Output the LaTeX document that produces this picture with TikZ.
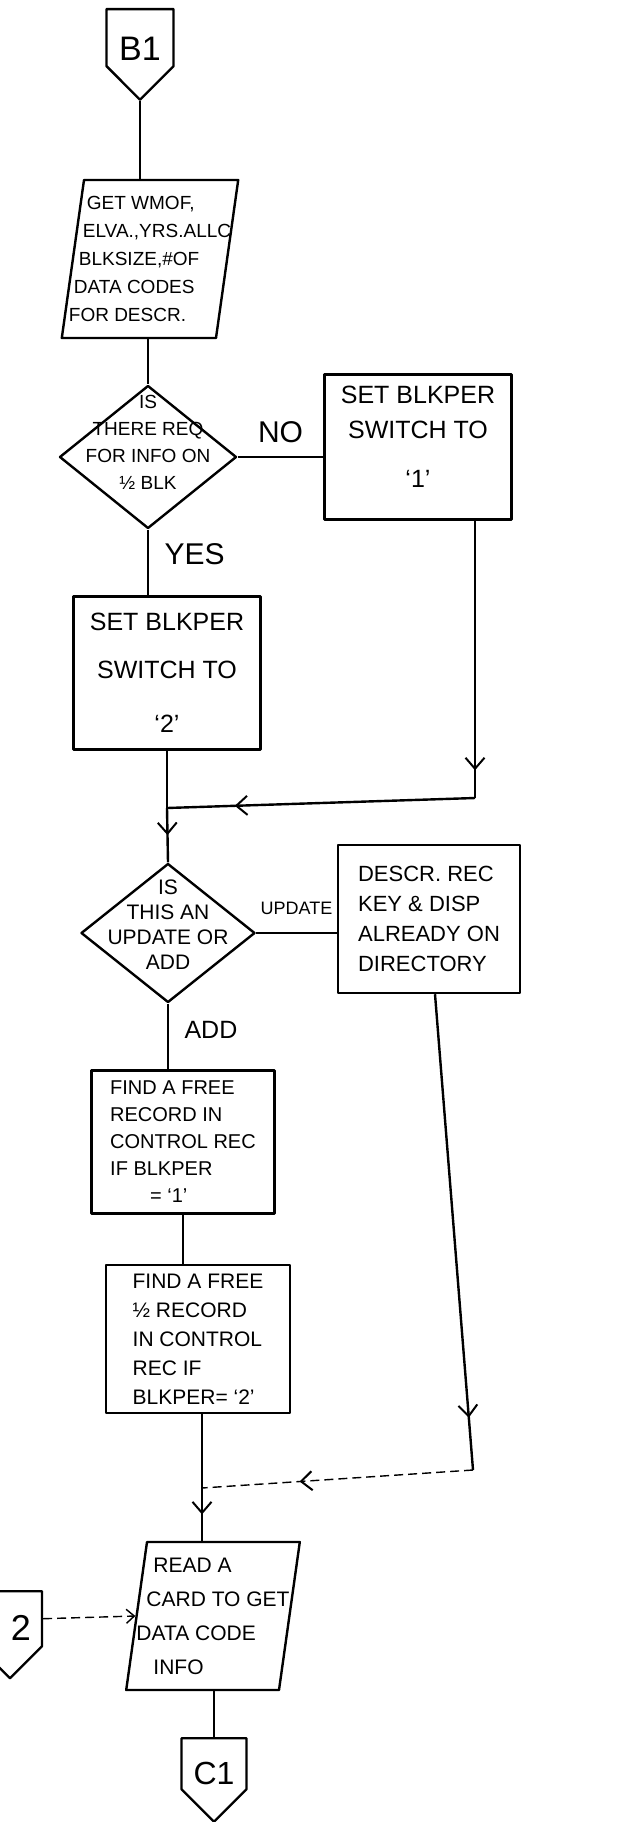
\documentclass[tikz,border=0pt]{standalone}
\usepackage{fontspec}
\setmainfont{Liberation Sans}
\usetikzlibrary{shapes.geometric, shapes.symbols, arrows.meta, decorations.markings}

\begin{document}
\begin{tikzpicture}[x=1pt, y=-1pt, line width=2.4pt, line join=round,
  box/.style={draw, rectangle, inner sep=4pt},
  inout/.style={draw, trapezium, trapezium left angle=82, trapezium right angle=98},
  decision/.style={draw, diamond, inner sep=0pt},
  offpage/.style={draw, signal, signal to=south, signal from=nowhere, inner sep=0pt, anchor=north},
  thinflow/.style={line width=1.4pt, dash pattern=on 9pt off 5pt},
  midarrow/.style={postaction={decorate, decoration={markings,
      mark=at position #1 with {\arrow[line width=2pt]{Straight Barb[length=11pt, width=19pt]}}}}}]
  \useasboundingbox (0,0) rectangle (624,1822);

  % Entry connector and first input
  \node[offpage, minimum width=67pt, minimum height=57pt,
    label={[yshift=-11pt, font=\fontsize{34}{40}\selectfont]center:B1}]
    (b1) at (140,8) {};
  \node[inout, inner xsep=66pt, inner ysep=79pt,
    label={[align=left, font=\fontsize{19}{28}\selectfont]center:{\hspace*{18pt}GET WMOF,\\\hspace*{14pt}ELVA.,YRS.ALLC\\\hspace*{10pt}BLKSIZE,\#OF\\\hspace*{5pt}DATA CODES\\FOR DESCR.}}]
    (p1) at (150,259) {};

  % Half block question
  \node[decision, minimum width=177pt, minimum height=143pt,
    label={[align=center, yshift=15pt, font=\fontsize{19}{27}\selectfont]center:{IS\\THERE REQ\\FOR INFO ON\\½ BLK}}]
    (q1) at (148,457) {};
  \node[box, minimum width=187pt, minimum height=145pt, align=center, font=\fontsize{25}{35}\selectfont]
    (b2) at (418,447) {SET BLKPER\\SWITCH TO\\[14pt]`1'\\[-14pt]};
  \node[box, minimum width=187pt, minimum height=153pt, align=center, font=\fontsize{25}{48}\selectfont]
    (b3) at (167,673) {SET BLKPER\\SWITCH TO\\[6pt]`2'};

  % Update or add
  \node[decision, minimum width=174pt, minimum height=139pt,
    label={[align=center, yshift=8pt, font=\fontsize{21}{25}\selectfont]center:{IS\\THIS AN\\UPDATE OR\\ADD}}]
    (q2) at (168,933) {};
  \node[box, minimum width=182pt, minimum height=148pt, align=left, font=\fontsize{22}{30}\selectfont]
    (b4) at (429,919) {DESCR. REC\\KEY \& DISP\\ALREADY ON\\DIRECTORY};
  \node[box, minimum width=183pt, minimum height=143pt, align=left, font=\fontsize{20}{27}\selectfont]
    (b5) at (183,1142) {FIND A FREE\\RECORD IN\\CONTROL REC\\IF BLKPER\\\hspace*{40pt}= `1'};
  \node[box, minimum width=184pt, minimum height=148pt, align=left, font=\fontsize{21}{29}\selectfont]
    (b6) at (198,1339) {FIND A FREE\\½ RECORD\\IN CONTROL\\REC IF\\BLKPER= `2'};

  % Card input and exits
  \node[inout, inner xsep=66pt, inner ysep=74pt,
    label={[align=left, font=\fontsize{21}{34}\selectfont]center:{\hspace*{17pt}READ A\\\hspace*{10pt}CARD TO GET\\DATA CODE\\\hspace*{17pt}INFO}}]
    (p7) at (213,1616) {};
  \node[offpage, minimum width=64pt, minimum height=55pt,
    label={[xshift=11pt, yshift=-9pt, font=\fontsize{36}{40}\selectfont]center:2}]
    (c2) at (10,1590) {};
  \node[offpage, minimum width=65pt, minimum height=51pt,
    label={[yshift=-10pt, font=\fontsize{32}{36}\selectfont]center:C1}]
    (c1) at (214,1737) {};

  % Connectors
  \draw (b1.south) -- (b1.south |- p1.north);
  \draw (q1.north |- p1.south) -- (q1.north);
  \draw (q1.east) -- (b2.west |- q1.east)
    node[midway, above=10pt, font=\fontsize{30}{32}\selectfont] (no) {NO};
  \draw (q1.south) -- (q1.south |- b3.north)
    node[pos=0.37, right=12pt, font=\fontsize{30}{32}\selectfont] (yes) {YES};
  \coordinate (t2) at (475,798);
  \coordinate (j1) at (167,808);
  \draw[midarrow=0.9] (b2.south -| t2) -- (t2);
  \draw[midarrow=0.78] (t2) -- (j1);
  \draw (b3.south) -- (j1);
  \draw[midarrow=0.5] (j1) -- (q2.north);
  \draw (q2.east) -- (b4.west |- q2.east)
    node[midway, above=14pt, font=\fontsize{18}{20}\selectfont] (upd) {UPDATE};
  \draw (q2.south) -- (q2.south |- b5.north)
    node[pos=0.4, right=12pt, font=\fontsize{25}{28}\selectfont] (add) {ADD};
  \draw (b5.south) -- (b5.south |- b6.north);
  \coordinate (j2) at (202,1488);
  \coordinate (t4) at (473,1470);
  \draw (b6.south -| j2) -- (j2);
  \draw[midarrow=0.5] (j2) -- (j2 |- p7.north);
  \draw[midarrow=0.89] ([xshift=6pt]b4.south) -- (t4);
  \draw[thinflow, midarrow=0.64] (t4) -- (j2);
  \draw[thinflow, -{Straight Barb[length=8pt, width=14pt]}] (c2.east) -- (p7.west);
  \draw (c1.north |- p7.south) -- (c1.north);
\end{tikzpicture}
\end{document}
